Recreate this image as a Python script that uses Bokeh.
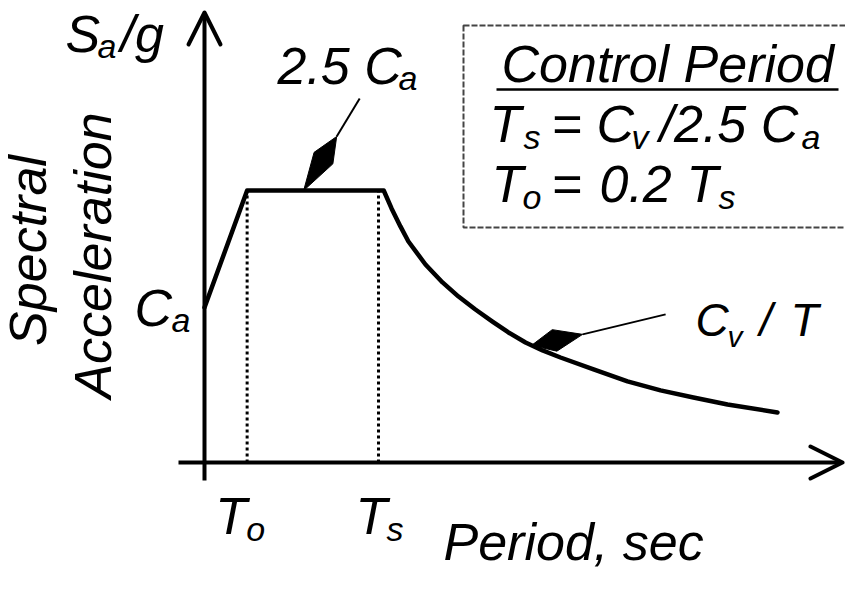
import math
import numpy as np
from bokeh.plotting import figure
from bokeh.models import Range1d, Arrow, OpenHead
from bokeh.core.properties import value
from bokeh.embed import file_html
from bokeh.resources import INLINE

# ---------------- data ----------------
# period in units of Ts, spectral acceleration normalised by the plateau (2.5 Ca)
period = [0.0, 0.245, 1.03, 1.075, 1.126, 1.172, 1.27, 1.368, 1.46, 1.557, 1.655,
          1.747, 1.845, 1.943, 2.046, 2.236, 2.431, 2.621, 2.81, 3.006, 3.293]
spectral_acc = [0.57, 1.0, 1.0, 0.934, 0.868, 0.8125, 0.728, 0.662, 0.61, 0.5625, 0.518,
                0.478, 0.441, 0.412, 0.386, 0.342, 0.298, 0.265, 0.239, 0.213, 0.184]
control_periods = [0.245, 1.0]          # To, Ts
control_main = ["T", "T"]
control_sub = ["o", "s"]
plateau = 1.0
plateau_pointer_T = 0.57                # where the "2.5 Ca" pointer touches
decay_pointer_T = 1.88                  # where the "Cv / T" pointer touches

# ---------------- layout ----------------
W, H = 845, 573
PX_T, PX_SA = 174.0, 272.0
OX, OY = 204.0, 462.0                   # pixel position of the origin
FONT = value("Liberation Sans")
BASE_K = 0.375                          # correction of the alphabetic baseline


def D(px, py):
    """pixel -> data"""
    return (px - OX) / PX_T, (OY - py) / PX_SA


def P(x, y):
    """data -> pixel"""
    return OX + x * PX_T, OY - y * PX_SA


p = figure(width=W, height=H,
           x_range=Range1d(D(0, 0)[0], D(W, 0)[0]),
           y_range=Range1d(D(0, H)[1], D(0, 0)[1]),
           x_axis_location=None, y_axis_location=None,
           output_backend="svg", toolbar_location=None,
           min_border=0, outline_line_color=None,
           background_fill_color="white", border_fill_color="white")
p.grid.visible = False


def label(s, px, py, size=52, angle=0.0, align="left"):
    k = BASE_K * size
    px -= k * math.sin(angle)
    py -= k * math.cos(angle)
    x, y = D(px, py)
    p.text(x=[x], y=[y], text=[s], angle=angle, text_font=FONT,
           text_font_style="italic", text_font_size=f"{size}px",
           text_align=align, text_baseline="alphabetic", text_color="black")


def spindle(tip, head, f=0.6, w=10.0):
    (x0, y0), (x1, y1) = tip, head
    dx, dy = x1 - x0, y1 - y0
    L = math.hypot(dx, dy)
    nx, ny = -dy / L, dx / L
    mx, my = x0 + f * dx, y0 + f * dy
    pts = [(x0, y0), (mx + w * nx, my + w * ny), (x1, y1), (mx - w * nx, my - w * ny)]
    xs, ys = zip(*[D(a, b) for a, b in pts])
    p.patch(list(xs), list(ys), fill_color="black", line_color="black", line_width=1)


# ---------------- axes with arrow heads ----------------
ax_start = D(178, 0)[0]
ax_end = D(842, 0)[0]
p.add_layout(Arrow(x_start=ax_start, y_start=0, x_end=ax_end, y_end=0,
                   line_width=4, line_color="black",
                   end=OpenHead(size=32, line_width=4, line_join="round", line_cap="round")))
ay_start = D(0, 480)[1]
ay_end = D(0, 12)[1]
p.add_layout(Arrow(x_start=0, y_start=ay_start, x_end=0, y_end=ay_end,
                   line_width=4, line_color="black",
                   end=OpenHead(size=32, line_width=4, line_join="round", line_cap="round")))

# ---------------- dotted control-period lines ----------------
p.segment(x0=control_periods, y0=[0, 0], x1=control_periods, y1=[plateau, plateau],
          line_color="black", line_width=3, line_dash="3 3")

# ---------------- spectrum ----------------
p.line(period, spectral_acc, line_color="black", line_width=4.5,
       line_join="round", line_cap="round")

# ---------------- pointers ----------------
tip1 = P(plateau_pointer_T, plateau)
head1 = (tip1[0] + 33, tip1[1] - 54)
spindle(tip1, head1, f=0.6, w=11)
e1 = (tip1[0] + 56, tip1[1] - 92)
p.line([D(*head1)[0], D(*e1)[0]], [D(*head1)[1], D(*e1)[1]], line_color="black", line_width=2)

tip2 = P(decay_pointer_T, float(np.interp(decay_pointer_T, period, spectral_acc)))
head2 = (tip2[0] + 51, tip2[1] - 11)
spindle(tip2, head2, f=0.45, w=11)
e2 = (tip2[0] + 134, tip2[1] - 31)
p.line([D(*head2)[0], D(*e2)[0]], [D(*head2)[1], D(*e2)[1]], line_color="black", line_width=2)

# ---------------- info box ----------------
bl, br = D(463, 0)[0], D(900, 0)[0]
bt, bb = D(0, 25)[1], D(0, 227)[1]
p.quad(left=[bl], right=[br], top=[bt], bottom=[bb], fill_color=None,
       line_color="#444444", line_width=2, line_dash="6 2")
u0, u1 = D(496, 89), D(838, 89)
p.segment(x0=[u0[0]], y0=[u0[1]], x1=[u1[0]], y1=[u1[1]], line_color="black", line_width=2.5)

label("Control Period", 501, 83)
label("T", 489, 143); label("s", 523, 149, 34); label("=", 551, 143)
label("C", 596, 143); label("v", 631, 149, 34); label("/2.5 C", 659, 143); label("a", 801, 149, 34)
label("T", 491, 203); label("o", 522, 209, 34); label("=", 551, 203)
label("0.2", 599, 203); label("T", 686, 203); label("s", 718, 209, 34)

# ---------------- axis titles and labels ----------------
label("S", 65, 53); label("a", 97, 58, 34); label("/g", 120, 53)
label("Spectral", 47, 250, angle=math.pi / 2, align="center")
label("Acceleration", 112, 255, angle=math.pi / 2, align="center")
label("C", 134, 327); label("a", 171, 332, 34)
label("2.5 C", 277, 85); label("a", 398, 90, 34)
label("C", 695, 337, 46); label("v", 727, 347, 30); label("/", 759, 337, 46); label("T", 790, 337, 46)
label("Period, sec", 443, 561)

for xc, m, s in zip(control_periods, control_main, control_sub):
    px = P(xc, 0)[0] - (32 if s == "o" else 23)
    label(m, px, 535)
    label(s, px + 31, 541, 34)

open("out.html", "w").write(file_html(p, INLINE))
